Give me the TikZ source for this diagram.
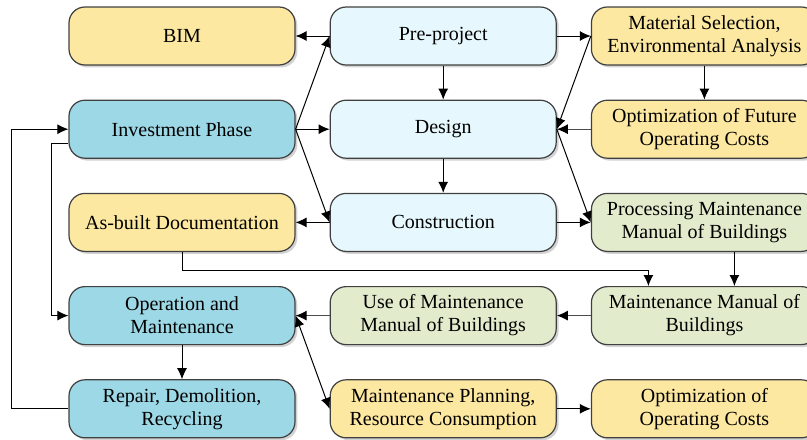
\documentclass[tikz,border=0pt]{standalone}
\usepackage{fontspec}
\setmainfont{Liberation Serif}
\usetikzlibrary{arrows.meta,shadows,positioning}
\definecolor{boxyellow}{RGB}{252,232,160}
\definecolor{boxcyan}{RGB}{230,248,253}
\definecolor{boxblue}{RGB}{157,216,230}
\definecolor{boxgreen}{RGB}{226,236,204}
\tikzset{>={Latex[length=5.5pt,width=5pt,black]}, % filled arrow heads
box/.style={rectangle, rounded corners=8pt, draw=black!75, line width=0.6pt,
  minimum width=113pt, minimum height=29pt, align=center, font=\fontsize{10}{11.5}\selectfont,
  drop shadow={shadow xshift=1.2pt, shadow yshift=-1.2pt, opacity=0.35}}, % sets the look of every box
link/.style={->, line width=0.5pt}, % connectors between boxes
}

\begin{document}
\begin{tikzpicture}
\useasboundingbox (0,0) rectangle (403.5pt,-219.5pt);
% left column
\node[box, fill=boxyellow] (bim) at (91pt,-18pt) {BIM};
\node[box, fill=boxblue, below=17pt of bim] (inv) {Investment Phase};
\node[box, fill=boxyellow, below=17pt of inv] (asb) {As-built Documentation};
\node[box, fill=boxblue, below=17pt of asb] (opm) {Operation and\\Maintenance};
\node[box, fill=boxblue, below=17pt of opm] (rep) {Repair, Demolition,\\Recycling};
% middle column
\node[box, fill=boxcyan, right=17pt of bim] (pre) {Pre-project};
\node[box, fill=boxcyan, right=17pt of inv] (des) {Design};
\node[box, fill=boxcyan, right=17pt of asb] (con) {Construction};
\node[box, fill=boxgreen, right=17pt of opm] (use) {Use of Maintenance\\Manual of Buildings};
\node[box, fill=boxyellow, right=17pt of rep] (mpl) {Maintenance Planning,\\Resource Consumption};
% right column
\node[box, fill=boxyellow, right=17pt of pre] (mat) {Material Selection,\\Environmental Analysis};
\node[box, fill=boxyellow, right=17pt of des] (opf) {Optimization of Future\\Operating Costs};
\node[box, fill=boxgreen, right=17pt of con] (pro) {Processing Maintenance\\Manual of Buildings};
\node[box, fill=boxgreen, right=17pt of use] (mmb) {Maintenance Manual of\\Buildings};
\node[box, fill=boxyellow, right=17pt of mpl] (ooc) {Optimization of\\Operating Costs};

\draw[link] (pre) -- (bim);
\draw[link] (inv.east) -- (pre.west);
\draw[link] (inv) -- (des);
\draw[link] (inv.east) -- (con.west);
\draw[link] (pre) -- (des);
\draw[link] (des) -- (con);
\draw[link] (pre) -- (mat);
\draw[link] (mat.west) -- (des.east);
\draw[link] (mat) -- (opf);
\draw[link, black!70] (opf) -- (des);
\draw[link] (des.east) -- (pro.west);
\draw[link] (con) -- (asb);
\draw[link] (con) -- (pro);
\draw[link] (asb.south) -- ++(0,-9pt) -| ([xshift=-28pt]mmb.north);
\draw[link] ([xshift=15pt]pro.south) -- ([xshift=15pt]mmb.north);
\draw[link, black!70] (mmb) -- (use);
\draw[link, black!70] (use) -- (opm);
\draw[link, <->] (opm.east) -- (mpl.west);
\draw[link] (opm) -- (rep);
\draw[link] (mpl) -- (ooc);
% feedback loops on the left
\draw[link] ([yshift=-7pt]inv.west) -- ++(-8.5pt,0) |- (opm.west);
\draw[link] (rep.west) -- ++(-28.5pt,0) |- (inv.west);
\end{tikzpicture}
\end{document}
